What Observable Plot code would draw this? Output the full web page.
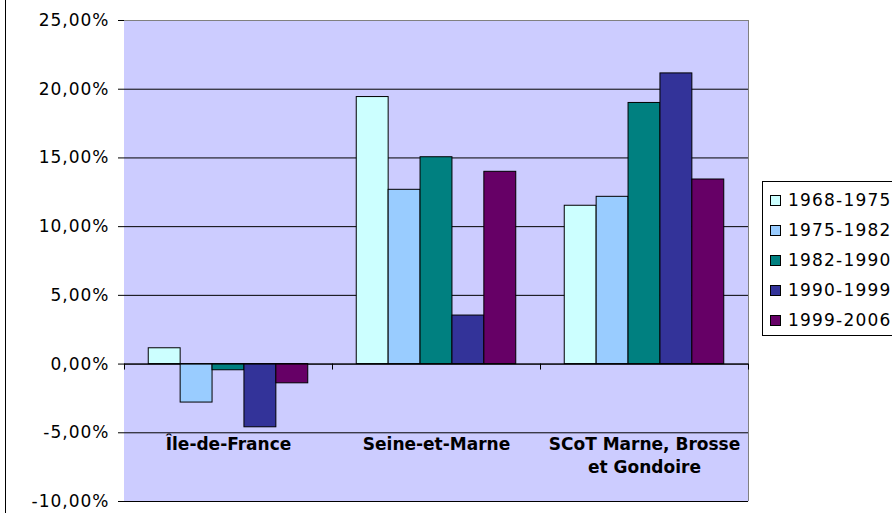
<!DOCTYPE html>
<html>
<head>
<meta charset="utf-8">
<script src="https://cdn.jsdelivr.net/npm/d3@7"></script>
<script src="https://cdn.jsdelivr.net/npm/@observablehq/plot@0.6"></script>
<style>
  html, body { margin: 0; padding: 0; background: #fff; overflow: hidden; }
  #wrap { position: relative; width: 892px; height: 513px; overflow: hidden; }
  #edge { position: absolute; left: 5px; top: 0; width: 0; height: 513px; border-left: 1px solid #000; }
  #legend { position: absolute; left: 762px; top: 181px; width: 150px; height: 155px; border: 1px solid #000;
            background: #fff; box-sizing: border-box; padding-top: 3px;
            font-family: "DejaVu Sans"; font-size: 17px; letter-spacing: 1.2px; color: #000; }
  #legend .item { display: flex; align-items: center; height: 30px; }
  #legend .sw { width: 9px; height: 9px; border: 1px solid #000; margin-left: 7px; margin-right: 7px; }
  .chart g[aria-label="y-axis tick label"] text { letter-spacing: 1px; }
</style>
</head>
<body>
<div id="wrap">
  <div id="chart"></div>
  <div id="edge"></div>
  <div id="legend"></div>
</div>
<script>
// ---- data ----
const regions = ["Île-de-France", "Seine-et-Marne", "SCoT Marne, Brosse et Gondoire"];
const regionLabels = ["Île-de-France", "Seine-et-Marne", "SCoT Marne, Brosse\net Gondoire"];
const periods = ["1968-1975", "1975-1982", "1982-1990", "1990-1999", "1999-2006"];
const colors = ["#CCFFFF", "#99CCFF", "#008080", "#333399", "#660066"];
const valuesIDF = [1.15, -2.8, -0.45, -4.6, -1.4];
const valuesSEM = [19.43, 12.68, 15.05, 3.53, 13.99];
const valuesSCoT = [11.52, 12.17, 19.0, 21.15, 13.43];
const yTicks = [-10, -5, 0, 5, 10, 15, 20, 25];

const series = [valuesIDF, valuesSEM, valuesSCoT];
const data = regions.flatMap((r, i) => periods.map((p, j) => ({region: r, period: p, value: series[i][j]})));

const W = 892, H = 513, mL = 124, mR = 144, mT = 20, mB = 12;
const po = 0.76; // outer padding of bars within a category (Excel gap width)
const facetW = (W - mL - mR) / regions.length;
const barStep = facetW / (periods.length + 2 * po);
const edgeOffset = (0.5 + po) * barStep;
const lastRegion = regions[regions.length - 1];
const lastPeriod = periods[periods.length - 1];

const fmt = d => d.toFixed(2).replace(".", ",") + "%";

const chart = Plot.plot({
  width: W, height: H,
  marginLeft: mL, marginRight: mR, marginTop: mT, marginBottom: mB,
  className: "chart",
  style: {background: "transparent", fontFamily: "DejaVu Sans", fontSize: "17px", color: "#000", overflow: "visible"},
  fx: {domain: regions, padding: 0, axis: null, round: false},
  x: {domain: periods, axis: null, paddingInner: 0, paddingOuter: po, round: false},
  y: {domain: [-10, 25], ticks: yTicks, tickFormat: fmt, tickSize: 6, tickPadding: 9, label: null, line: true},
  color: {domain: periods, range: colors},
  marks: [
    // plot-area background (slightly overlapping between categories to avoid seams)
    Plot.frame({fill: "#CCCCFF", stroke: null, insetLeft: -0.5, insetRight: -0.5}),
    Plot.ruleY(yTicks.filter(t => t < 25), {stroke: "#000", strokeWidth: 1}),
    Plot.ruleY([25], {stroke: "#808080", strokeWidth: 1}),
    // right border of the plot area (last category only)
    Plot.ruleX([{region: lastRegion, period: lastPeriod}],
      {fx: "region", x: "period", y1: -10, y2: 25, dx: edgeOffset, stroke: "#808080"}),
    Plot.barY(data, {fx: "region", x: "period", y: "value", fill: "period", stroke: "#000", strokeWidth: 1}),
    Plot.ruleY([0], {stroke: "#000", strokeWidth: 1}),
    // category axis tick marks between categories
    Plot.ruleX(regions.map(r => ({region: r, period: periods[0]})),
      {fx: "region", x: "period", y1: 0, y2: 0, insetBottom: -6, dx: -edgeOffset, stroke: "#000"}),
    Plot.ruleX([{region: lastRegion, period: lastPeriod}],
      {fx: "region", x: "period", y1: 0, y2: 0, insetBottom: -6, dx: edgeOffset, stroke: "#000"}),
    Plot.text(regions.map((r, i) => ({region: r, label: regionLabels[i]})),
      {fx: "region", y: () => -5, text: "label", lineAnchor: "top", dy: 1, lineHeight: 1.35,
       fontWeight: "bold", fontSize: 17, fill: "#000", textAnchor: "middle"})
  ]
});
document.getElementById("chart").appendChild(chart);

// ---- legend ----
const legend = document.getElementById("legend");
periods.forEach((p, i) => {
  const item = document.createElement("div");
  item.className = "item";
  const sw = document.createElement("span");
  sw.className = "sw";
  sw.style.background = colors[i];
  const t = document.createElement("span");
  t.textContent = p;
  item.appendChild(sw);
  item.appendChild(t);
  legend.appendChild(item);
});
</script>
</body>
</html>
